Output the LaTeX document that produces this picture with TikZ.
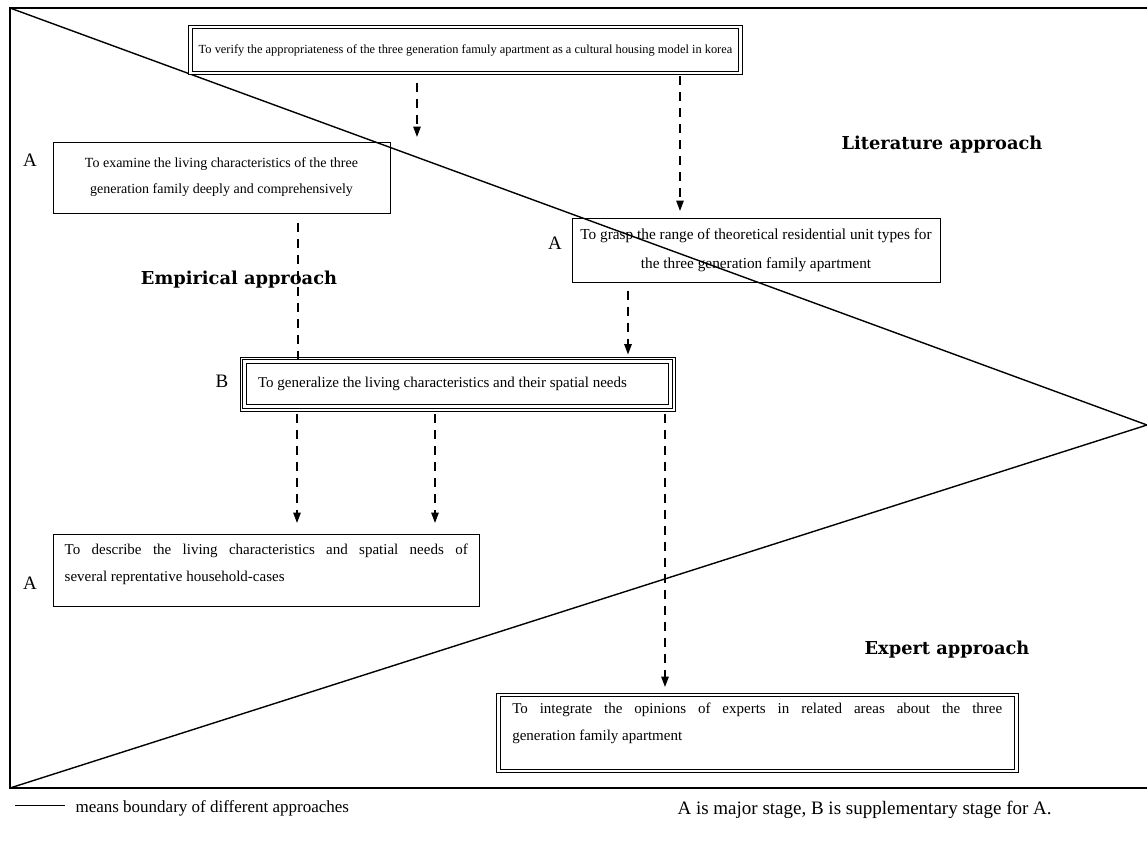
\documentclass[tikz,border=0pt]{standalone}
\usepackage{fontspec}
\setmainfont{Liberation Serif}
\newfontfamily\approachfont{DejaVu Serif}
\usetikzlibrary{arrows.meta, positioning, calc}

\begin{document}
\begin{tikzpicture}[x=1pt, y=-1pt,
    stage/.style={rectangle, draw, line width=1pt, inner sep=0pt, align=center, font=\fontsize{14}{26}\selectfont},
    dstage/.style={stage, double, double distance=2.5pt, line width=0.9pt},
    stagelbl/.style={font=\fontsize{19}{19}\selectfont},
    approach/.style={font=\fontsize{17.8}{18}\approachfont\bfseries},
    flow/.style={-{Triangle[length=11pt, width=7pt]}, line width=2.6pt, dash pattern=on 9pt off 7pt},
    flowline/.style={line width=2.6pt, dash pattern=on 9pt off 7pt},
    boundary/.style={line width=1.4pt},
    legend/.style={font=\fontsize{17}{17}\selectfont, anchor=west}
]
    \useasboundingbox (0,0) rectangle (1147,841);

    % Frame and approach boundaries
    \coordinate (tl) at (10,8);
    \coordinate (bl) at (10,788);
    \coordinate (apex) at (1147,425);
    \draw[boundary] (1147,8) -- (tl) -- (bl) -- (1147,788);
    \draw[boundary] (tl) -- (apex) -- (bl);

    % Goal
    \node[dstage, minimum width=550, minimum height=46, font=\fontsize{12.4}{14}\selectfont] (verify) at (465.5,50)
        {To verify the appropriateness of the three generation famuly apartment as a cultural housing model in korea};

    % Stages A
    \node[stage, minimum width=337, minimum height=71] (examine) at (221.5,177.5)
        {To examine the living characteristics of the three\\generation family deeply and comprehensively};
    \node[stagelbl] at (30,160) {A};

    \node[stage, minimum width=368, minimum height=64, font=\fontsize{15.3}{29}\selectfont] (grasp) at (756,250)
        {To grasp the range of theoretical residential unit types for\\the three generation family apartment};
    \node[stagelbl] at (555,243) {A};

    % Stage B (triple border)
    \node[dstage, minimum width=426, minimum height=45, font=\fontsize{15}{16}\selectfont] (genl) at (457.5,384)
        {\hspace*{-30pt}To generalize the living characteristics and their spatial needs};
    \draw[line width=0.9pt] ([shift={(-4pt,4pt)}]genl.north west) rectangle ([shift={(4pt,-4pt)}]genl.south east);
    \node[stagelbl] at (222,381) {B};

    % Stage A, empirical
    \node[stage, minimum width=426, minimum height=72] (describe) at (266,570) {};
    \node[anchor=north west, align=left, inner sep=0pt, font=\fontsize{15}{27}\selectfont] at ([shift={(12pt,-10pt)}]describe.north west)
        {\makebox[403pt][s]{To describe the living characteristics and spatial needs of}\\several reprentative household-cases};
    \node[stagelbl] at (30,583) {A};

    % Stage A, expert
    \node[dstage, minimum width=518, minimum height=76] (integrate) at (757.5,733) {};
    \node[anchor=north west, align=left, inner sep=0pt, font=\fontsize{15}{27}\selectfont] at ([shift={(14pt,-8pt)}]integrate.north west)
        {\makebox[490pt][s]{To integrate the opinions of experts in related areas about the three}\\generation family apartment};

    % Flows
    \draw[flow, shorten <=10pt, shorten >=4pt] (verify.south -| 417,0) -- (examine.north -| 417,0);
    \draw[flow, shorten <=3pt, shorten >=6pt] (verify.south -| 680,0) -- (grasp.north -| 680,0);
    \draw[flowline, shorten <=9pt, shorten >=2pt] (examine.south -| 298,0) -- (genl.north -| 298,0);
    \draw[flow, shorten <=8pt, shorten >=6pt] (grasp.south -| 628,0) -- (genl.north -| 628,0);
    \draw[flow, shorten <=7pt, shorten >=10pt] (genl.south -| 297,0) -- (describe.north -| 297,0);
    \draw[flow, shorten <=7pt, shorten >=10pt] (genl.south -| 435,0) -- (describe.north -| 435,0);
    \draw[flow, shorten <=7pt, shorten >=7pt] (genl.south -| 665,0) -- (integrate.north -| 665,0);

    % Approach labels
    \node[approach] (lit) at (942,145) {Literature approach};
    \node[approach] (emp) at (239,280) {Empirical approach};
    \node[approach] (exp) at (947,650) {Expert approach};

    % Legend
    \coordinate (lgs) at (15,805);
    \coordinate (lge) at (65,805);
    \draw[line width=0.9pt] (lgs) -- (lge);
    \node[legend] (lgtext) at (72,808) {means boundary of different approaches};
    \node[legend, font=\fontsize{19}{19}\selectfont] (stagenote) at (674,810) {A is major stage, B is supplementary stage for A.};
\end{tikzpicture}
\end{document}
